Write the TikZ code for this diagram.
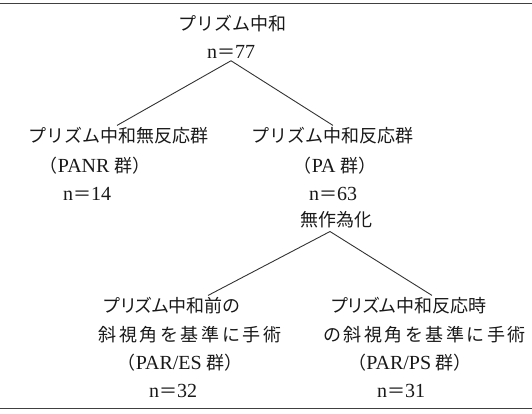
\documentclass[tikz,border=0pt]{standalone}
\usepackage{fontspec}
\setmainfont{Liberation Serif}
\newfontfamily\jp{Noto Sans CJK JP}
\newfontfamily\jpw[LetterSpace=14]{Noto Sans CJK JP}
\newfontfamily\jpp[RawFeature=+palt]{Noto Sans CJK JP}
\newcommand\LL[1]{{\fontsize{20}{22}\selectfont #1}}
\begin{document}
\begin{tikzpicture}[x=1pt,y=-1pt,
  every node/.style={inner sep=0pt, text=black!90, font=\fontsize{18}{20}\selectfont},
  conn/.style={draw=black!80, line width=0.9pt},
  rulestyle/.style={draw=black!75, line width=1.5pt}]
\useasboundingbox (0,0) rectangle (532,413);
\draw[rulestyle] (0,3.5) -- (532,3.5);
\draw[rulestyle] (0,408.5) -- (532,408.5);

\node (top1) at (232,24) {\jp プリズム中和};
\node (n77) at (231,52) {\LL{n}{\jp ＝}\LL{77}};

\node (panr1) at (118,136) {\jp プリズム中和無反応群};
\node (panr2) at (95,166) {{\jp （}\LL{PANR} {\jp 群）}};
\node (panr3) at (87,194) {\LL{n}{\jp ＝}\LL{14}};

\node (pa1) at (332,136) {\jp プリズム中和反応群};
\node (pa2) at (335,166) {{\jp （}\LL{PA} {\jp 群）}};
\node (pa3) at (333,194) {\LL{n}{\jp ＝}\LL{63}};
\node (rand) at (336,220) {\jp 無作為化};

\node (es1) at (172,306) {\jpp プリズム中和前の};
\node (es2) at (190,335) {\jpw 斜視角を基準に手術};
\node (es3) at (180,363) {{\jp （}\LL{PAR/ES} {\jp 群）}};
\node (es4) at (173,391) {\LL{n}{\jp ＝}\LL{32}};

\node (ps1) at (409,306) {\jpp プリズム中和反応時};
\node[anchor=west] (ps2) at (323,335) {\jpw の斜視角を基準に手術};
\node (ps3) at (410,363) {{\jp （}\LL{PAR/PS} {\jp 群）}};
\node (ps4) at (401,391) {\LL{n}{\jp ＝}\LL{31}};

\draw[conn] ([yshift=-2pt]n77.south) -- ([xshift=-1pt,yshift=2pt]panr1.north);
\draw[conn] ([yshift=-2pt]n77.south) -- ([xshift=1pt,yshift=2pt]pa1.north);
\draw[conn] ([xshift=-6pt,yshift=-3pt]rand.south) -- ([xshift=36pt,yshift=2pt]es1.north);
\draw[conn] ([xshift=-6pt,yshift=-3pt]rand.south) -- ([xshift=23pt,yshift=2pt]ps1.north);
\end{tikzpicture}
\end{document}
